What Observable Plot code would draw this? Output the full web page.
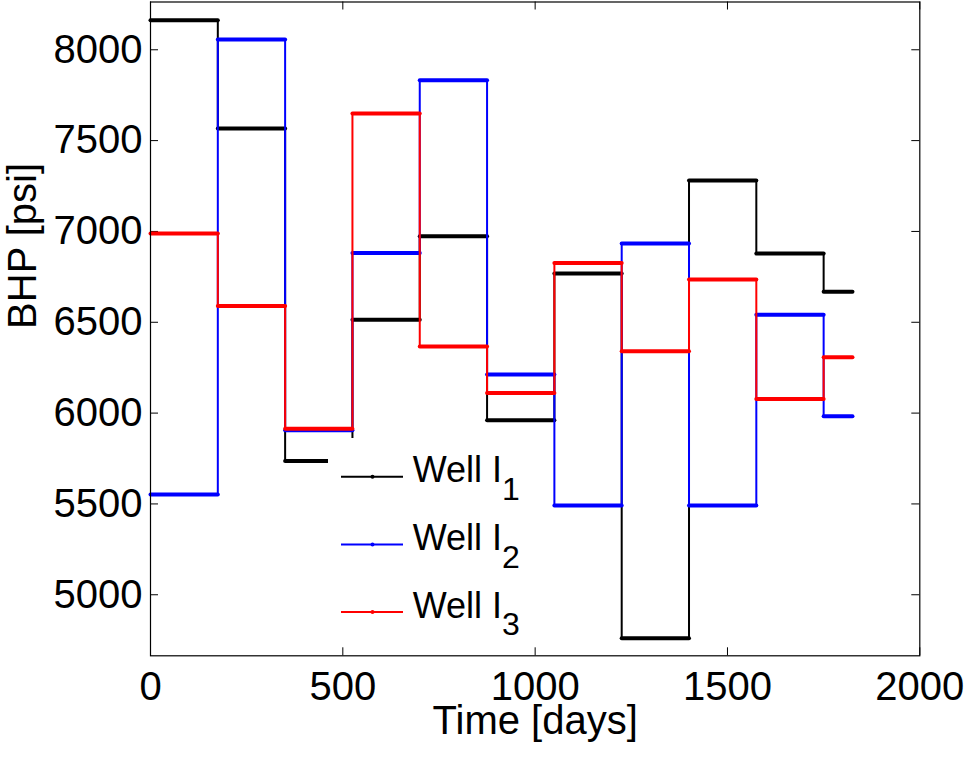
<!DOCTYPE html>
<html>
<head>
<meta charset="utf-8">
<script src="https://cdn.jsdelivr.net/npm/d3@7"></script>
<script src="https://cdn.jsdelivr.net/npm/@observablehq/plot@0.6"></script>
<style>
  body { margin: 0; background: #fff; }
  #wrap { position: relative; width: 980px; height: 769px; font-family: "Liberation Sans", Arial, Helvetica, sans-serif; }
  #legend { position: absolute; left: 328px; top: 438px; width: 217px; height: 207px; background: #fff; }
</style>
</head>
<body>
<div id="wrap"><div id="chart"></div><div id="legend"></div></div>
<script>
// ---- data ----
const startDays = [0, 175, 350, 525, 700, 875, 1050, 1225, 1400, 1575, 1750];
const endDay = 1825;
const wellI1 = [8162, 7566, 5736, 6514, 6973, 5960, 6768, 4761, 7281, 6878, 6668];
const wellI2 = [5552, 8056, 5905, 6881, 7832, 6213, 5492, 6933, 5492, 6542, 5982];
const wellI3 = [6988, 6589, 5914, 7649, 6367, 6110, 6826, 6340, 6736, 6077, 6307];
const wellNames = ["Well I", "Well I", "Well I"];
const wellSubs = ["1", "2", "3"];
const wellColors = ["#000000", "#0000ff", "#ff0000"];
const xTicks = [0, 500, 1000, 1500, 2000];
const yTicks = [5000, 5500, 6000, 6500, 7000, 7500, 8000];
const xDomain = [0, 2000];
const yDomain = [4664, 8263];

const series = [wellI1, wellI2, wellI3];

// ---- layout ----
const W = 980, H = 769;
const mL = 150, mR = 60.7, mT = 1.5, mB = 113.7;
const fw = W - mL - mR, fh = H - mT - mB;
const tick = 8;

const marks = [];
// inner ticks on all four sides (MATLAB style)
marks.push(Plot.tickX(xTicks, {x: d => d, insetTop: fh - tick, stroke: "#000", strokeWidth: 1}));
marks.push(Plot.tickX(xTicks, {x: d => d, insetBottom: fh - tick, stroke: "#000", strokeWidth: 1}));
marks.push(Plot.tickY(yTicks, {y: d => d, insetRight: fw - tick, stroke: "#000", strokeWidth: 1}));
marks.push(Plot.tickY(yTicks, {y: d => d, insetLeft: fw - tick, stroke: "#000", strokeWidth: 1}));

series.forEach((vals, k) => {
  const steps = startDays.map((t, i) => ({t, t2: i + 1 < startDays.length ? startDays[i + 1] : endDay, v: vals[i]}));
  const pts = steps.map(d => ({t: d.t, v: d.v})).concat([{t: endDay, v: vals[vals.length - 1]}]);
  marks.push(Plot.line(pts, {x: "t", y: "v", curve: "step-after", stroke: wellColors[k], strokeWidth: 2}));
  marks.push(Plot.link(steps, {x1: "t", x2: "t2", y1: "v", y2: "v", stroke: wellColors[k], strokeWidth: 4, strokeLinecap: "round"}));
});

marks.push(Plot.frame({stroke: "#000", strokeWidth: 1.2}));
marks.push(Plot.axisX(xTicks, {anchor: "bottom", tickSize: 0, tickPadding: 16, fontSize: 40, tickFormat: d => String(d), label: null}));
marks.push(Plot.axisY(yTicks, {anchor: "left", tickSize: 0, tickPadding: 8, fontSize: 40, tickFormat: d => String(d), label: null}));
marks.push(Plot.text(["Time [days]"], {text: d => d, frameAnchor: "bottom", dy: 65, lineAnchor: "middle", fontSize: 40, fill: "#000"}));
marks.push(Plot.text(["BHP [psi]"], {text: d => d, frameAnchor: "left", dx: -127, rotate: -90, lineAnchor: "middle", fontSize: 40, fill: "#000"}));

const chart = Plot.plot({
  width: W, height: H,
  marginLeft: mL, marginRight: mR, marginTop: mT, marginBottom: mB,
  x: {domain: xDomain, axis: null},
  y: {domain: yDomain, axis: null},
  style: {fontFamily: "'Liberation Sans', Arial, Helvetica, sans-serif", fontSize: "40px", color: "#000", background: "#fff"},
  marks
});
document.getElementById("chart").appendChild(chart);

// ---- legend (white box over the axes, as in the original) ----
const lg = d3.select("#legend").append("svg").attr("width", 217).attr("height", 207)
  .style("font-family", "'Liberation Sans', Arial, Helvetica, sans-serif");
wellNames.forEach((name, i) => {
  const y = 38.7 + 67.7 * i;
  lg.append("line").attr("x1", 13).attr("x2", 75).attr("y1", y).attr("y2", y)
    .attr("stroke", wellColors[i]).attr("stroke-width", 2);
  lg.append("circle").attr("cx", 44.5).attr("cy", y).attr("r", 2).attr("fill", wellColors[i]);
  const t = lg.append("text").attr("x", 84.7).attr("y", y + 5.6).attr("font-size", 36).attr("fill", "#000");
  t.append("tspan").text(name);
  t.append("tspan").attr("font-size", 32).attr("dy", 17.7).text(wellSubs[i]);
});
</script>
</body>
</html>
